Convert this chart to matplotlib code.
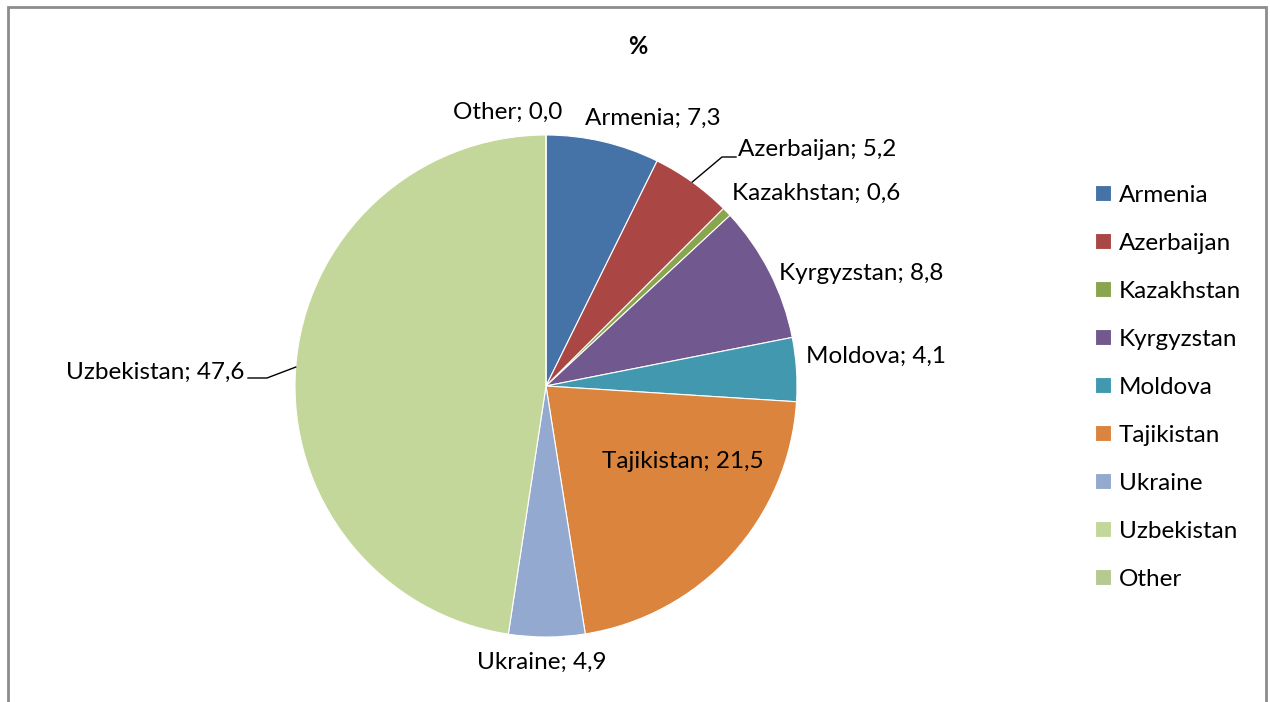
import matplotlib.pyplot as plt
import numpy as np
from matplotlib.patches import Rectangle

countries = ['Armenia', 'Azerbaijan', 'Kazakhstan', 'Kyrgyzstan', 'Moldova',
             'Tajikistan', 'Ukraine', 'Uzbekistan', 'Other']
shares = [7.3, 5.2, 0.6, 8.8, 4.1, 21.5, 4.9, 47.6, 0.0]
colors = ['#4572A7', '#AA4643', '#89A54E', '#71588F', '#4198AF',
          '#DB843D', '#93A9CF', '#C4D79B', '#B5CA92']

# label centre positions in figure pixels (x, y from top)
label_pos = [(653, 118), (817, 149), (816, 193), (861, 274), (876, 356),
             (683, 462), (542, 662), (155, 372), (508, 112)]

plt.rcParams['font.family'] = ['Lato', 'DejaVu Sans']
W, H = 1270, 702
fig = plt.figure(figsize=(12.7, 7.02), dpi=100)
ax = fig.add_axes([0, 0, 1, 1])

cx, cy, r = 546, H - 386, 251
wedges, _ = ax.pie(shares, colors=colors, startangle=90, counterclock=False,
                   center=(cx, cy), radius=r, frame=True,
                   wedgeprops=dict(linewidth=0.8, edgecolor='white'))
ax.set_xlim(0, W)
ax.set_ylim(0, H)
ax.set_aspect('equal')
ax.axis('off')

fs = 17.5
for name, val, (lx, ly) in zip(countries, shares, label_pos):
    txt = f'{name}; {val:.1f}'.replace('.', ',')
    ax.text(lx, H - ly, txt, fontsize=fs, ha='center', va='center', color='black')

# leader lines for Azerbaijan and Uzbekistan
for i, ex, ey, hx in [(1, 722, 157, 736), (7, 267, 378, 248)]:
    w = wedges[i]
    ang = np.deg2rad((w.theta1 + w.theta2) / 2)
    px, py = cx + r * np.cos(ang), cy + r * np.sin(ang)
    ax.plot([px, ex, hx], [py, H - ey, H - ey], color='black', lw=1)

ax.text(638, H - 47, '%', fontsize=17, fontweight='bold', ha='center', va='center')

fig.legend(wedges, countries, loc='upper left', bbox_to_anchor=(1085 / W, 1 - 175 / H),
           frameon=False, fontsize=fs, handlelength=0.65, handleheight=0.65,
           handletextpad=0.35, labelspacing=1.11, borderaxespad=0)

fig.patches.append(Rectangle((8 / W, -0.05), (1266 - 8) / W, 1.05 - 7 / H,
                             transform=fig.transFigure, fill=False,
                             edgecolor='#8c8c8c', linewidth=2))

fig.savefig('out.png', dpi=100)
